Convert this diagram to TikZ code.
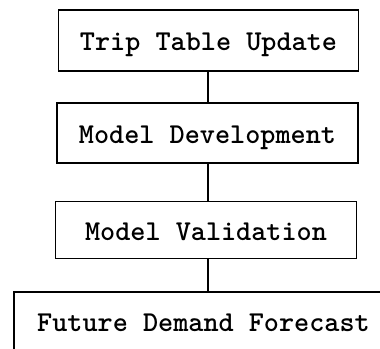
\documentclass[tikz,border=0pt]{standalone}
\begin{document}
\begin{tikzpicture}[x=1pt,y=-1pt,
  stagebox/.style={draw, line width=1.6pt, inner sep=0pt,
    font=\fontsize{28.8}{30}\selectfont\ttfamily\bfseries,
    text height=20pt, text depth=0pt},
  link/.style={line width=1.6pt}]
  \useasboundingbox (0,0) rectangle (380,348);
  \clip (0,0) rectangle (380,348);
  % process stages, top to bottom
  \node[stagebox, minimum width=300pt, minimum height=61pt] (trip) at (208.5,40.5) {Trip Table Update};
  \node[stagebox, minimum width=301pt, minimum height=60pt] (dev) at (207.5,133) {Model Development};
  \node[stagebox, minimum width=301pt, minimum height=57pt] (val) at (206,230) {Model Validation};
  % last stage runs past the lower and right edges
  \node[stagebox, draw=none, minimum height=56pt] (fore) at (203.5,321) {Future Demand Forecast};
  \coordinate (fl) at (14,360);
  \coordinate (fr) at (400,0);
  \draw[link] (fl) |- (fore.north -| fr);
  % connectors between stages
  \coordinate (c1) at (208,0);
  \draw[link] (trip.south -| c1) -- (dev.north -| c1);
  \draw[link] (dev.south -| c1) -- (val.north -| c1);
  \draw[link] (val.south -| c1) -- (fore.north -| c1);
\end{tikzpicture}
\end{document}
